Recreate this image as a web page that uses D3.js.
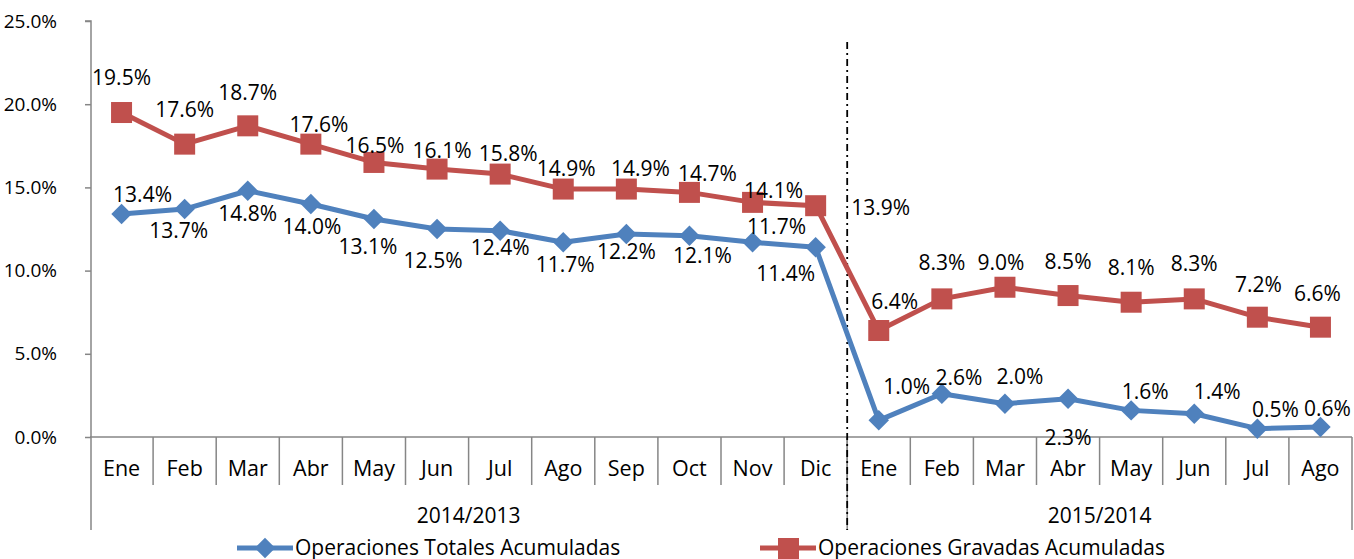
<!DOCTYPE html>
<html lang="es">
  <head>
    <meta charset="UTF-8" />
    <title>Operaciones Totales y Gravadas Acumuladas</title>
    <script src="https://cdnjs.cloudflare.com/ajax/libs/d3/7.8.5/d3.min.js"></script>
    <style>
      body { margin: 0; background: #fff; }
      svg { display: block; font-family: "Open Sans", "Noto Sans", sans-serif; }
      text { fill: #000; }
    </style>
  </head>
  <body>
    <div id="chart"></div>

    <script>
      /** Data */
      const months = ["Ene", "Feb", "Mar", "Abr", "May", "Jun", "Jul", "Ago", "Sep", "Oct", "Nov", "Dic",
                      "Ene", "Feb", "Mar", "Abr", "May", "Jun", "Jul", "Ago"];
      const periods = ["2014/2013", "2015/2014"];
      const periodLength = [12, 8];
      const totales = [13.4, 13.7, 14.8, 14.0, 13.1, 12.5, 12.4, 11.7, 12.2, 12.1, 11.7, 11.4,
                       1.0, 2.6, 2.0, 2.3, 1.6, 1.4, 0.5, 0.6];
      const gravadas = [19.5, 17.6, 18.7, 17.6, 16.5, 16.1, 15.8, 14.9, 14.9, 14.7, 14.1, 13.9,
                        6.4, 8.3, 9.0, 8.5, 8.1, 8.3, 7.2, 6.6];
      const yTicks = [0, 5, 10, 15, 20, 25];
      const seriesNames = ["Operaciones Totales Acumuladas", "Operaciones Gravadas Acumuladas"];

      /** Label nudges (px from the point), like dragged Excel labels */
      const totalesDx = [21, -6, 0, 1, -6, -4, 0, 2, 0, 13, 24, -30, 28, 17, 15, 0, 14, 23, 18, 7];
      const totalesDy = [-19, 22, 23, 23, 28, 32, 17, 22, 18, 20, -16, 26, -34, -16, -27, 39, -19, -22, -19, -18];
      const gravadasDx = [0, 0, 0, 8, 1, 5, 8, 3, 14, 18, 21, 65, 16, 0, -4, 0, 0, 0, 1, -3];
      const gravadasDy = [-35, -34, -33, -19, -17, -18, -20, -20, -20, -19, -12, 2, -29, -36, -25, -34, -35, -35, -33, -34];

      /** Graph configs */
      const width = 1354;
      const height = 559;
      const plotLeft = 90;
      const plotRight = 1352;
      const plotTop = 21;
      const plotBottom = 437;
      const axisColor = "#868686";
      const blue = "#4F81BD";
      const red = "#C0504D";
      const tickFont = 19;
      const labelFont = 21;
      const monthFont = 21.5;

      const xScale = d3.scaleBand().domain(d3.range(months.length)).range([plotLeft, plotRight]);
      const yScale = d3.scaleLinear().domain([0, 25]).range([plotBottom, plotTop]);
      const cx = (i) => xScale(i) + xScale.bandwidth() / 2;

      const svg = d3
        .select("#chart")
        .append("svg")
        .attr("width", width)
        .attr("height", height);

      /** Y axis */
      const yAxis = d3
        .axisLeft(yScale)
        .tickValues(yTicks)
        .tickSize(6)
        .tickPadding(28)
        .tickFormat((d) => d.toFixed(1) + "%");
      const gy = svg.append("g").attr("transform", `translate(${plotLeft + 1}, 0)`).call(yAxis);
      gy.select(".domain").attr("stroke", axisColor).attr("stroke-width", 1.5)
        .attr("d", `M-6,${plotTop}H0V530`);
      gy.selectAll(".tick line").attr("stroke", axisColor).attr("stroke-width", 1.5);
      gy.selectAll(".tick text")
        .attr("font-size", tickFont)
        .attr("font-family", "Open Sans, sans-serif")
        .attr("fill", "#000");

      /** X axis (two levels) */
      const gx = svg.append("g");
      gx.append("line")
        .attr("x1", plotLeft).attr("x2", plotRight)
        .attr("y1", plotBottom).attr("y2", plotBottom)
        .attr("stroke", axisColor).attr("stroke-width", 1.5);

      const starts = d3.cumsum([0].concat(periodLength));
      const groupEdges = Array.from(starts, (s) => (s < months.length ? xScale(s) : plotRight));

      gx.selectAll("line.sep")
        .data(d3.range(1, months.length))
        .enter()
        .append("line")
        .attr("class", "sep")
        .attr("x1", (i) => xScale(i)).attr("x2", (i) => xScale(i))
        .attr("y1", plotBottom).attr("y2", 485)
        .attr("stroke", axisColor).attr("stroke-width", 1.5);

      gx.selectAll("line.group")
        .data(groupEdges.slice(1))
        .enter()
        .append("line")
        .attr("class", "group")
        .attr("x1", (d) => d).attr("x2", (d) => d)
        .attr("y1", plotBottom).attr("y2", 530)
        .attr("stroke", axisColor).attr("stroke-width", 1.5);

      gx.selectAll("text.month")
        .data(months)
        .enter()
        .append("text")
        .attr("class", "month")
        .attr("x", (d, i) => cx(i))
        .attr("y", 468)
        .attr("dy", "0.35em")
        .attr("text-anchor", "middle")
        .attr("font-size", monthFont)
        .text((d) => d);

      gx.selectAll("text.period")
        .data(periods)
        .enter()
        .append("text")
        .attr("class", "period")
        .attr("x", (d, i) => (groupEdges[i] + groupEdges[i + 1]) / 2)
        .attr("y", 516)
        .attr("dy", "0.35em")
        .attr("text-anchor", "middle")
        .attr("font-size", labelFont)
        .text((d) => d);

      /** Dash-dot divider between periods */
      svg.append("line")
        .attr("x1", groupEdges[1]).attr("x2", groupEdges[1])
        .attr("y1", 42).attr("y2", 530)
        .attr("stroke", "#000").attr("stroke-width", 1.8)
        .attr("stroke-dasharray", "7,4,2,4");

      /** Series */
      const line = d3.line().x((d, i) => cx(i)).y((d) => yScale(d));

      svg.append("path").datum(totales)
        .attr("d", line).attr("fill", "none")
        .attr("stroke", blue).attr("stroke-width", 5).attr("stroke-linejoin", "round");
      svg.append("path").datum(gravadas)
        .attr("d", line).attr("fill", "none")
        .attr("stroke", red).attr("stroke-width", 5).attr("stroke-linejoin", "round");

      const diamond = d3.symbol().type(d3.symbolSquare).size(210);
      svg.selectAll("path.diamond")
        .data(totales)
        .enter()
        .append("path")
        .attr("class", "diamond")
        .attr("d", diamond)
        .attr("transform", (d, i) => `translate(${cx(i)}, ${yScale(d)}) rotate(45)`)
        .attr("fill", blue);

      svg.selectAll("rect.square")
        .data(gravadas)
        .enter()
        .append("rect")
        .attr("class", "square")
        .attr("x", (d, i) => cx(i) - 10.5)
        .attr("y", (d) => yScale(d) - 10.5)
        .attr("width", 21).attr("height", 21)
        .attr("fill", red);

      /** Data labels */
      svg.selectAll("text.lblT")
        .data(totales)
        .enter()
        .append("text")
        .attr("class", "lblT")
        .attr("x", (d, i) => cx(i) + totalesDx[i])
        .attr("y", (d, i) => yScale(d) + totalesDy[i])
        .attr("dy", "0.35em")
        .attr("text-anchor", "middle")
        .attr("font-size", labelFont)
        .text((d) => d.toFixed(1) + "%");

      svg.selectAll("text.lblG")
        .data(gravadas)
        .enter()
        .append("text")
        .attr("class", "lblG")
        .attr("x", (d, i) => cx(i) + gravadasDx[i])
        .attr("y", (d, i) => yScale(d) + gravadasDy[i])
        .attr("dy", "0.35em")
        .attr("text-anchor", "middle")
        .attr("font-size", labelFont)
        .text((d) => d.toFixed(1) + "%");

      /** Legend */
      const legendX = [237, 760];
      const legend = svg.selectAll("g.legend")
        .data(seriesNames)
        .enter()
        .append("g")
        .attr("class", "legend")
        .attr("transform", (d, i) => `translate(${legendX[i]}, 548)`);
      legend.append("line")
        .attr("x1", 0).attr("x2", 56).attr("y1", 0).attr("y2", 0)
        .attr("stroke", (d, i) => (i === 0 ? blue : red)).attr("stroke-width", 5);
      legend.filter((d, i) => i === 0).append("path")
        .attr("d", diamond)
        .attr("transform", "translate(28, 0) rotate(45)")
        .attr("fill", blue);
      legend.filter((d, i) => i === 1).append("rect")
        .attr("x", 18).attr("y", -10).attr("width", 21).attr("height", 21)
        .attr("fill", red);
      legend.append("text")
        .attr("x", 58)
        .attr("dy", "0.35em")
        .attr("font-size", labelFont)
        .text((d) => d);
    </script>
  </body>
</html>
